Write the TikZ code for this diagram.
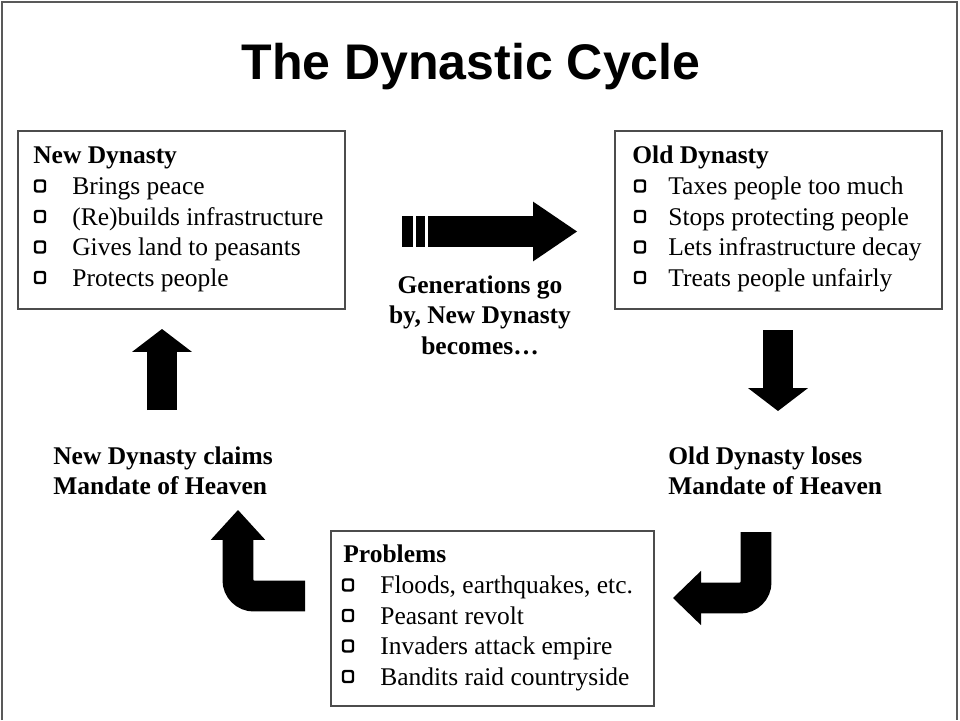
\documentclass[tikz,border=0pt]{standalone}
\usepackage{fontspec}
\setmainfont{Liberation Serif}
\newfontfamily\titlefont{Liberation Sans}
\usetikzlibrary{arrows.meta}

\begin{document}
\begin{tikzpicture}[x=0.02cm, y=-0.02cm,
      panel/.style={draw=black!70, line width=1.3pt, anchor=north west, inner sep=0,
         minimum width=6.54cm, minimum height=3.56cm},
      item/.style={anchor=base west, inner sep=0, font=\fontsize{14.5}{17}\selectfont},
      head/.style={item, font=\fontsize{14.5}{17}\selectfont\bfseries},
      bullet/.style={draw, line width=1.4pt, rounded corners=1.2pt},
      caption/.style={inner sep=0, font=\fontsize{14.5}{17.5}\selectfont\bfseries},
      fatarrow/.style={line width=17.6pt, -{Triangle[length=#1, width=34pt, line width=0pt]}},
      bentarrow/.style={line width=17.6pt, rounded corners=9pt,
         -{Triangle[length=#1, width=31pt, line width=0pt]}}]
   \useasboundingbox (0,0) rectangle (960,720);
   \draw[black!65, line width=1.2pt] (2,720) -- (2,2) -- (957,2) -- (957,720);

   \node[inner sep=0, anchor=base, font=\titlefont\fontsize{28.5}{30}\selectfont\bfseries]
      (title) at (471,79) {The Dynastic Cycle};

   % the three boxes
   \def \NewItems {Brings peace, (Re)builds infrastructure, Gives land to peasants, Protects people}
   \def \OldItems {Taxes people too much, Stops protecting people, Lets infrastructure decay, Treats people unfairly}
   \def \ProblemItems {{Floods, earthquakes, etc.}, Peasant revolt, Invaders attack empire, Bandits raid countryside}

   \node[panel] (newbox) at (17,130) {};
   \node[head] (newhead) at (33,163) {New Dynasty};
   \foreach \t [count=\i] in \NewItems {
      \node[item] (new\i) at (72, 164+30.5*\i) {\t};
      \draw[bullet] (35, 150+30.5*\i) rectangle ++(10,11);
   }

   \node[panel] (oldbox) at (614,130) {};
   \node[head] (oldhead) at (632,163) {Old Dynasty};
   \foreach \t [count=\i] in \OldItems {
      \node[item] (old\i) at (668, 164+30.5*\i) {\t};
      \draw[bullet] (635, 150+30.5*\i) rectangle ++(10,11);
   }

   \node[panel, minimum width=6.46cm, minimum height=3.5cm] (probbox) at (330,530) {};
   \node[head] (probhead) at (343,562) {Problems};
   \foreach \t [count=\i] in \ProblemItems {
      \node[item] (prob\i) at (380, 563+30.5*\i) {\t};
      \draw[bullet] (343, 549+30.5*\i) rectangle ++(10,11);
   }

   % captions
   \node[caption, align=center, anchor=north] (generations) at (480,275)
      {Generations go\\by, New Dynasty\\becomes\dots};
   \node[caption, align=left, anchor=north west] (loses) at (668,446)
      {Old Dynasty loses\\Mandate of Heaven};
   \node[caption, align=left, anchor=north west] (claims) at (53,446)
      {New Dynasty claims\\Mandate of Heaven};

   % arrows
   \coordinate (gentail) at (428,231.5);
   \coordinate (gentip) at (577,231.5);
   \fill (402,216) rectangle (413,247);
   \fill (416,216) rectangle (425,247);
   \draw[fatarrow=25pt] (gentail) -- (gentip);

   \coordinate (downtail) at (778,330);
   \coordinate (downtip) at (778,411);
   \draw[fatarrow=13pt] (downtail) -- (downtip);

   \coordinate (uptail) at (162,410);
   \coordinate (uptip) at (162,329);
   \draw[fatarrow=13pt] (uptail) -- (uptip);

   \coordinate (lefttail) at (305,596);
   \coordinate (lefttip) at (238,510);
   \draw[bentarrow=17pt] (lefttail) -| (lefttip);

   \coordinate (righttail) at (756,532);
   \coordinate (righttip) at (673,598);
   \draw[bentarrow=16pt] (righttail) |- (righttip);
\end{tikzpicture}
\end{document}
